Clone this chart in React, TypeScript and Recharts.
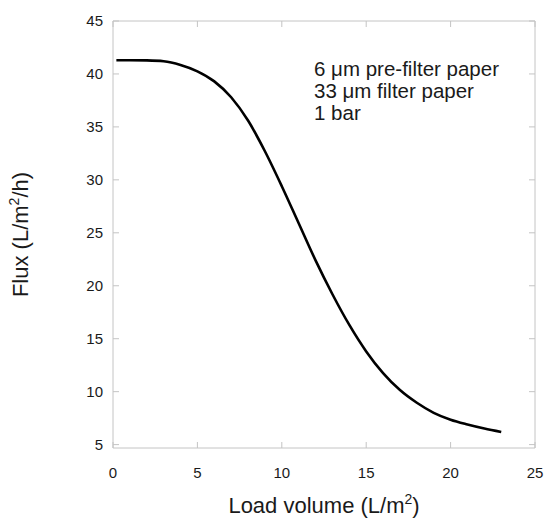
import React from 'react';
import { LineChart, Line, XAxis, YAxis } from 'recharts';

const loadVolume = [0.2, 1, 2, 3, 4, 5, 6, 7, 8, 9, 10, 11, 12, 13, 14, 15, 16, 17, 18, 19, 20, 21, 22, 23];
const flux = [41.3, 41.3, 41.28, 41.2, 40.85, 40.25, 39.3, 37.8, 35.6, 32.7, 29.4, 25.9, 22.4, 19.2, 16.3, 13.8, 11.75, 10.15, 8.95, 8.0, 7.35, 6.9, 6.52, 6.2];
const xTicks = [0, 5, 10, 15, 20, 25];
const yTicks = [5, 10, 15, 20, 25, 30, 35, 40, 45];
const annotationLines = ['6 μm pre-filter paper', '33 μm filter paper', '1 bar'];

const data = loadVolume.map((x, i) => ({ x, y: flux[i] }));

const FONT = '"Liberation Sans", Arial, Helvetica, sans-serif';
const FRAME = '#c4c4c4';
const TEXT = '#1a1a1a';

const NoTick = () => <g />;

const XTitle = (props: any) => {
  const vb = props.viewBox || {};
  const cx = vb.x + vb.width / 2;
  const y = vb.y + 65;
  return (
    <text x={cx} y={y} textAnchor="middle" fontFamily={FONT} fontSize={22} fill={TEXT}>
      Load volume (L/m<tspan dy={-9} fontSize={14}>2</tspan><tspan dy={9}>)</tspan>
    </text>
  );
};

const YTitle = (props: any) => {
  const vb = props.viewBox || {};
  const cx = 28;
  const cy = vb.y + vb.height / 2;
  return (
    <text x={cx} y={cy} textAnchor="middle" fontFamily={FONT} fontSize={22} fill={TEXT}
      transform={`rotate(-90, ${cx}, ${cy})`}>
      Flux (L/m<tspan dy={-9} fontSize={14}>2</tspan><tspan dy={9}>/h)</tspan>
    </text>
  );
};

export default function App() {
  return (
    <div style={{ position: 'absolute', left: 0, top: 0, background: '#fff' }}>
      <LineChart width={550} height={526} data={data} margin={{ top: 20, right: 0, bottom: 0, left: 0 }}>
        <XAxis
          xAxisId="bottom"
          dataKey="x"
          type="number"
          domain={[0, 25]}
          ticks={xTicks}
          height={78}
          stroke={FRAME}
          tickSize={-6}
          tickMargin={25}
          tick={{ fill: TEXT, fontSize: 15, fontFamily: FONT }}
          label={<XTitle />}
        />
        <XAxis
          xAxisId="top"
          orientation="top"
          dataKey="x"
          type="number"
          domain={[0, 25]}
          ticks={xTicks}
          height={1}
          stroke={FRAME}
          tickSize={-6}
          tick={NoTick}
        />
        <YAxis
          yAxisId="left"
          type="number"
          domain={[4.68, 45]}
          ticks={yTicks}
          width={113}
          stroke={FRAME}
          tickSize={-6}
          tickMargin={16}
          tick={{ fill: TEXT, fontSize: 15, fontFamily: FONT }}
          label={<YTitle />}
          allowDataOverflow
        />
        <YAxis
          yAxisId="right"
          orientation="right"
          type="number"
          domain={[4.68, 45]}
          ticks={yTicks}
          width={15}
          stroke={FRAME}
          tickSize={-6}
          tick={NoTick}
          allowDataOverflow
        />
        <Line
          xAxisId="bottom"
          yAxisId="left"
          dataKey="y"
          type="monotone"
          stroke="#000"
          strokeWidth={2.6}
          dot={false}
          activeDot={false}
          isAnimationActive={false}
        />
        <text x={314} y={76} fontFamily={FONT} fontSize={20.5} fill={TEXT}>
          {annotationLines.map((t, i) => (
            <tspan key={i} x={314} dy={i === 0 ? 0 : 22}>{t}</tspan>
          ))}
        </text>
      </LineChart>
    </div>
  );
}
